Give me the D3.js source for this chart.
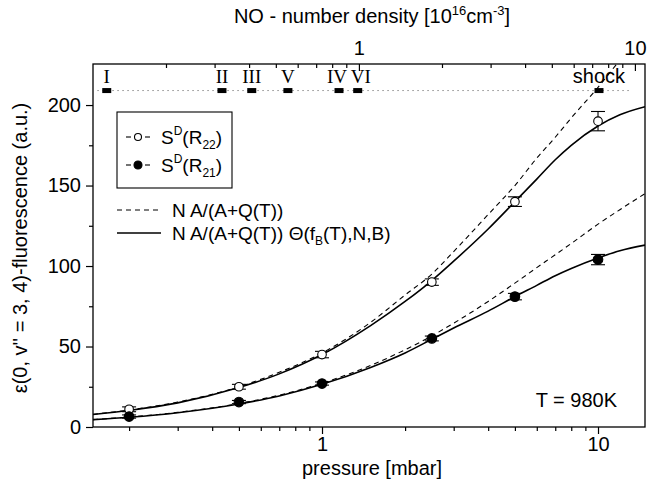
<!DOCTYPE html>
<html>
<head>
<meta charset="utf-8">
<script src="https://cdn.jsdelivr.net/npm/d3@7"></script>
<style>
  body { margin: 0; background: #fff; }
  svg { display: block; font-family: Arial, "Liberation Sans", sans-serif; }
  .axis path.domain { display: none; }
  .axis line { stroke: #000; stroke-width: 1.2; }
  .axis text { font-size: 20px; fill: #000; font-family: Arial, "Liberation Sans", sans-serif; }
</style>
</head>
<body>
<svg width="647" height="483"></svg>
<script>
'use strict';

// measured points, pressure in mbar
var pressure = [0.2, 0.5, 1, 2.5, 5, 10];
var r22 = [11, 25, 45, 90, 140, 190];
var r22Err = [1.5, 1.5, 2, 2, 3, 6];
var r21 = [6.5, 15.5, 27, 55, 81, 104];
var r21Err = [1, 1, 1, 1.5, 2, 3.2];

// model curves
var curveP = [0.148, 0.2, 0.3, 0.5, 0.7, 1, 1.5, 2, 2.5, 3, 4, 5, 6, 7, 8, 10, 12, 14.8];
var upperDash = [7.9, 10.5, 15.5, 25, 34, 46, 65, 82, 95, 109, 132, 150, 167, 180, 192, 211, 228, 248];
var upperSolid = [7.8, 10.3, 15, 24.5, 33, 45, 63, 78, 91, 103, 123, 140, 154, 166, 175, 187, 194, 199];
var lowerDash = [4.6, 6.2, 9.1, 14.6, 19.8, 27.2, 38.2, 48, 56.6, 64.5, 78, 89.4, 99, 107, 114, 126, 135, 145];
var lowerSolid = [4.6, 6.1, 8.9, 14.3, 19.3, 26.5, 37, 46, 54.5, 61.5, 72, 81, 88, 94, 98.5, 105, 109.5, 113];

// experiment markers on the number density axis
var markerNames = ['I', 'II', 'III', 'V', 'IV', 'VI', 'shock'];
var markerDensity = [0.122, 0.319, 0.409, 0.553, 0.847, 0.99, 7.41];
var markerLevel = 209;

var xMajor = [1, 10];
var xMinor = [0.2, 0.3, 0.4, 0.5, 0.6, 0.7, 0.8, 0.9, 2, 3, 4, 5, 6, 7, 8, 9];
var topMajor = [1, 10];
var topMinor = [0.2, 0.3, 0.4, 0.5, 0.6, 0.7, 0.8, 0.9, 2, 3, 4, 5, 6, 7, 8, 9];
var yMajor = [0, 50, 100, 150, 200];
var yMinor = [25, 75, 125, 175];

var DENSITY_PER_MBAR = 0.735;
var P_MIN = 0.148, P_MAX = 14.8;
var LEFT = 93, RIGHT = 645, TOP = 64, BOTTOM = 427;

var svg = d3.select('svg');

var x = d3.scaleLog().domain([P_MIN, P_MAX]).range([LEFT, RIGHT]);
var xTop = d3.scaleLog()
    .domain([P_MIN * DENSITY_PER_MBAR, P_MAX * DENSITY_PER_MBAR])
    .range([LEFT, RIGHT]);
var y = d3.scaleLinear().domain([0, 225.5]).range([BOTTOM, TOP]);

svg.append('clipPath').attr('id', 'plotclip')
    .append('rect')
    .attr('x', LEFT).attr('y', TOP)
    .attr('width', RIGHT - LEFT).attr('height', BOTTOM - TOP);

// axes
svg.append('g').attr('class', 'axis')
    .attr('transform', 'translate(0,' + BOTTOM + ')')
    .call(d3.axisBottom(x).tickValues(xMajor).tickSize(7).tickPadding(3).tickFormat(d3.format('d')));
svg.append('g').attr('class', 'axis')
    .attr('transform', 'translate(0,' + BOTTOM + ')')
    .call(d3.axisBottom(x).tickValues(xMinor).tickSize(4).tickFormat(''));

svg.append('g').attr('class', 'axis')
    .attr('transform', 'translate(' + LEFT + ',0)')
    .call(d3.axisLeft(y).tickValues(yMajor).tickSize(7).tickPadding(5));
svg.append('g').attr('class', 'axis')
    .attr('transform', 'translate(' + LEFT + ',0)')
    .call(d3.axisLeft(y).tickValues(yMinor).tickSize(4).tickFormat(''));

svg.append('g').attr('class', 'axis')
    .attr('transform', 'translate(0,' + TOP + ')')
    .call(d3.axisTop(xTop).tickValues(topMajor).tickSize(-7).tickPadding(9).tickFormat(d3.format('d')));
svg.append('g').attr('class', 'axis')
    .attr('transform', 'translate(0,' + TOP + ')')
    .call(d3.axisTop(xTop).tickValues(topMinor).tickSize(-4).tickFormat(''));

// frame
svg.append('rect')
    .attr('x', LEFT).attr('y', TOP)
    .attr('width', RIGHT - LEFT).attr('height', BOTTOM - TOP)
    .attr('fill', 'none').attr('stroke', '#000').attr('stroke-width', 1.3);

// axis titles
svg.append('text')
    .attr('x', 372).attr('y', 475)
    .attr('text-anchor', 'middle').attr('font-size', 20)
    .text('pressure [mbar]');

var topTitle = svg.append('text')
    .attr('x', 372).attr('y', 23)
    .attr('text-anchor', 'middle').attr('font-size', 20);
topTitle.append('tspan').text('NO - number density [10');
topTitle.append('tspan').attr('font-size', 13).attr('dy', -8).text('16');
topTitle.append('tspan').attr('dy', 8).text('cm');
topTitle.append('tspan').attr('font-size', 13).attr('dy', -8).text('-3');
topTitle.append('tspan').attr('dy', 8).text(']');

svg.append('text')
    .attr('transform', 'translate(27,248) rotate(-90)')
    .attr('text-anchor', 'middle').attr('font-size', 20)
    .text('\u03b5(0, v\'\' = 3, 4)-fluorescence (a.u.)');

// experiment marker row
var markerRow = svg.append('g');
markerRow.append('line')
    .attr('x1', xTop(0.113)).attr('x2', xTop(9.6))
    .attr('y1', y(markerLevel)).attr('y2', y(markerLevel))
    .attr('stroke', '#555').attr('stroke-width', 1)
    .attr('stroke-dasharray', '1,4');
markerRow.selectAll('rect')
    .data(markerDensity)
    .enter()
    .append('rect')
    .attr('x', function(d) { return xTop(d) - 4.5; })
    .attr('y', y(markerLevel) - 2.5)
    .attr('width', 9).attr('height', 5)
    .attr('fill', '#000');

// IV and VI sit almost on top of each other, nudge their labels apart
function labelNudge(name) {
    if (name === 'IV') return -2;
    if (name === 'VI') return 3;
    return 0;
}

markerRow.selectAll('text')
    .data(markerNames)
    .enter()
    .append('text')
    .attr('x', function(d, i) { return xTop(markerDensity[i]) + labelNudge(d); })
    .attr('y', y(markerLevel) - 8)
    .attr('text-anchor', 'middle')
    .attr('font-size', function(d) { return d === 'shock' ? 20 : 19; })
    .attr('font-family', function(d) {
        return d === 'shock' ? 'Arial, "Liberation Sans", sans-serif' : '"Times New Roman", "Liberation Serif", serif';
    })
    .text(function(d) { return d; });

// curves
var plot = svg.append('g').attr('clip-path', 'url(#plotclip)');

function drawCurve(values, dashed) {
    var line = d3.line()
        .x(function(d, i) { return x(curveP[i]); })
        .y(function(d) { return y(d); })
        .curve(d3.curveMonotoneX);
    plot.append('path')
        .datum(values)
        .attr('d', line)
        .attr('fill', 'none')
        .attr('stroke', '#000')
        .attr('stroke-width', dashed ? 1.1 : 1.6)
        .attr('stroke-dasharray', dashed ? '5,4' : null);
}

drawCurve(upperDash, true);
drawCurve(lowerDash, true);
drawCurve(upperSolid, false);
drawCurve(lowerSolid, false);

// points with error bars
function drawPoints(values, errors, open) {
    var g = svg.append('g');
    var bars = g.selectAll('g.bar')
        .data(values)
        .enter()
        .append('g')
        .attr('class', 'bar');
    bars.append('line')
        .attr('x1', function(d, i) { return x(pressure[i]); })
        .attr('x2', function(d, i) { return x(pressure[i]); })
        .attr('y1', function(d, i) { return y(d - errors[i]); })
        .attr('y2', function(d, i) { return y(d + errors[i]); })
        .attr('stroke', '#000').attr('stroke-width', 1.1);
    [-1, 1].forEach(function(s) {
        bars.append('line')
            .attr('x1', function(d, i) { return x(pressure[i]) - 7; })
            .attr('x2', function(d, i) { return x(pressure[i]) + 7; })
            .attr('y1', function(d, i) { return y(d + s * errors[i]); })
            .attr('y2', function(d, i) { return y(d + s * errors[i]); })
            .attr('stroke', '#000').attr('stroke-width', 1.1);
    });
    g.selectAll('circle')
        .data(values)
        .enter()
        .append('circle')
        .attr('cx', function(d, i) { return x(pressure[i]); })
        .attr('cy', function(d) { return y(d); })
        .attr('r', open ? 4.3 : 4.8)
        .attr('fill', open ? '#fff' : '#000')
        .attr('stroke', '#000')
        .attr('stroke-width', 1.1);
}

drawPoints(r22, r22Err, true);
drawPoints(r21, r21Err, false);

// legend
var legend = svg.append('g');
legend.append('rect')
    .attr('x', 117).attr('y', 112)
    .attr('width', 115).attr('height', 76)
    .attr('fill', '#fff').attr('stroke', '#000').attr('stroke-width', 1.1);

function legendSymbol(cy, open, label) {
    legend.append('line').attr('x1', 126).attr('x2', 131).attr('y1', cy).attr('y2', cy)
        .attr('stroke', '#000').attr('stroke-width', 1.1);
    legend.append('line').attr('x1', 145).attr('x2', 150).attr('y1', cy).attr('y2', cy)
        .attr('stroke', '#000').attr('stroke-width', 1.1);
    legend.append('circle').attr('cx', 138).attr('cy', cy).attr('r', open ? 3.5 : 4)
        .attr('fill', open ? '#fff' : '#000').attr('stroke', '#000').attr('stroke-width', 1.1);
    var t = legend.append('text').attr('x', 161).attr('y', cy + 7).attr('font-size', 19);
    t.append('tspan').text('S');
    t.append('tspan').attr('font-size', 12).attr('dy', -9).text('D');
    t.append('tspan').attr('dy', 9).text('(R');
    t.append('tspan').attr('font-size', 12).attr('dy', 5).text(label);
    t.append('tspan').attr('dy', -5).text(')');
}

legendSymbol(137, true, '22');
legendSymbol(165, false, '21');

legend.append('line').attr('x1', 117).attr('x2', 161).attr('y1', 210).attr('y2', 210)
    .attr('stroke', '#000').attr('stroke-width', 1.1).attr('stroke-dasharray', '5,4');
legend.append('text').attr('x', 172).attr('y', 217).attr('font-size', 19)
    .text('N A/(A+Q(T))');

legend.append('line').attr('x1', 117).attr('x2', 161).attr('y1', 233).attr('y2', 233)
    .attr('stroke', '#000').attr('stroke-width', 1.6);
var solidLabel = legend.append('text').attr('x', 172).attr('y', 240).attr('font-size', 19);
solidLabel.append('tspan').text('N A/(A+Q(T)) \u0398(f');
solidLabel.append('tspan').attr('font-size', 12).attr('dy', 5).text('B');
solidLabel.append('tspan').attr('dy', -5).text('(T),N,B)');

svg.append('text')
    .attr('x', 617).attr('y', 407)
    .attr('text-anchor', 'end').attr('font-size', 20)
    .text('T = 980K');
</script>
</body>
</html>
